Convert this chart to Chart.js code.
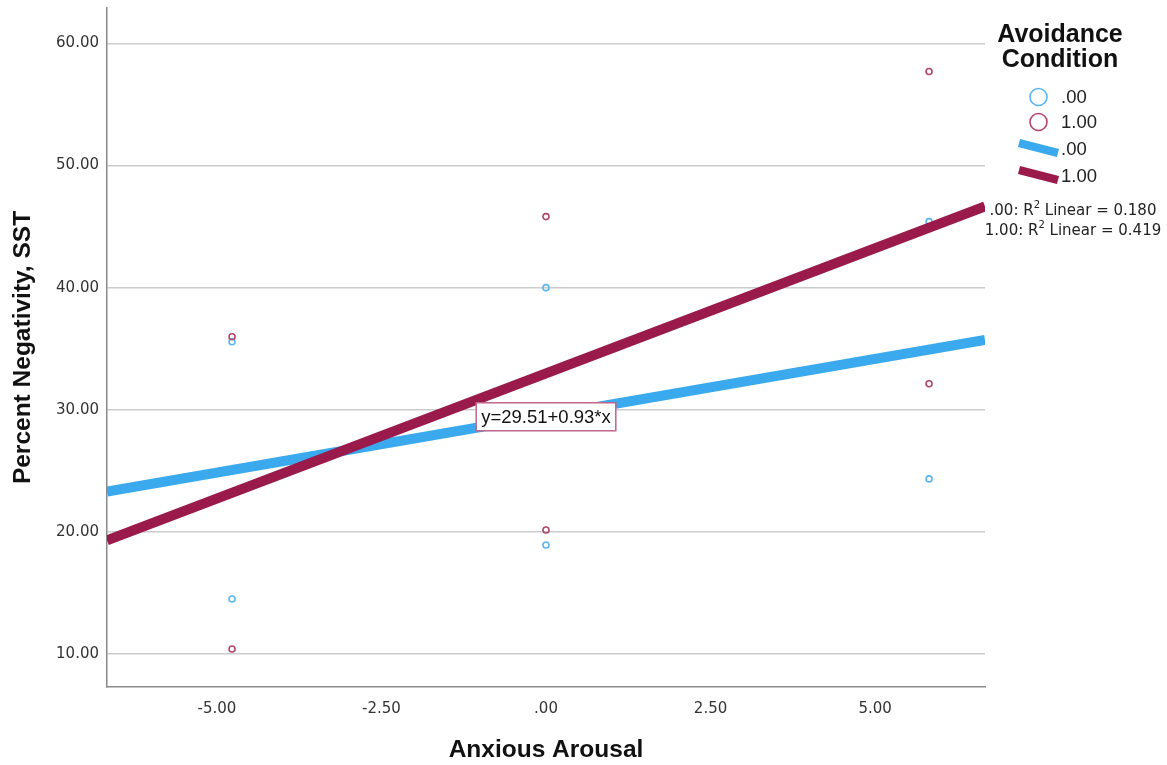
<!DOCTYPE html>
<html>
<head>
<meta charset="utf-8">
<script src="https://cdn.jsdelivr.net/npm/chart.js@4.4.1/dist/chart.umd.min.js"></script>
<style>
  html, body { margin: 0; padding: 0; background: #ffffff; }
  #wrap { width: 1167px; height: 765px; position: relative; }
</style>
</head>
<body>
<div id="wrap"><canvas id="c" width="1167" height="765"></canvas></div>
<script>
// Scatter data, one pair of arrays per avoidance condition
const groupNames = ['.00', '1.00'];
const arousal0 = [-4.77, -4.77, 0, 0, 5.82, 5.82];
const negativity0 = [35.57, 14.51, 40.00, 18.93, 45.41, 24.34];
const arousal1 = [-4.77, -4.77, 0, 0, 5.82, 5.82];
const negativity1 = [35.98, 10.41, 45.82, 20.16, 57.70, 32.13];

// Linear fit per condition: y = intercept + slope * x
const fitIntercept = [29.51, 32.98];
const fitSlope = [0.93, 2.05];
const rSquared = ['0.180', '0.419'];

// Axis ticks
const xTicks = [-5, -2.5, 0, 2.5, 5];
const xTickLabels = ['-5.00', '-2.50', '.00', '2.50', '5.00'];
const yTicks = [10, 20, 30, 40, 50, 60];
const yTickLabels = ['10.00', '20.00', '30.00', '40.00', '50.00', '60.00'];

const X_MIN = -6.67, X_MAX = 6.67, Y_MIN = 7.3, Y_MAX = 62.9;

const BLUE_LINE = '#3aa9ee';
const RED_LINE = '#9a1b4b';
const BLUE_PT = '#5ab6f2';
const RED_PT = '#b2456f';

function pts(xs, ys) { return xs.map((x, i) => ({ x: x, y: ys[i] })); }
function fitLine(k) {
  return [X_MIN, X_MAX].map(x => ({ x: x, y: fitIntercept[k] + fitSlope[k] * x }));
}

const overlay = {
  id: 'overlay',
  afterDatasetsDraw(chart) {
    const ctx = chart.ctx;
    const xs = chart.scales.x, ys = chart.scales.y;
    // equation label on the first fit line
    const txt = 'y=' + fitIntercept[0].toFixed(2) + '+' + fitSlope[0].toFixed(2) + '*x';
    ctx.save();
    ctx.font = '18.5px "Liberation Sans", Arial, sans-serif';
    const w = ctx.measureText(txt).width;
    const cx = xs.getPixelForValue(0);
    const cy = ys.getPixelForValue(fitIntercept[0]) + 1;
    const bw = w + 10, bh = 28;
    ctx.fillStyle = '#ffffff';
    ctx.fillRect(cx - bw / 2, cy - bh / 2, bw, bh);
    ctx.strokeStyle = '#c0668a';
    ctx.lineWidth = 1.5;
    ctx.strokeRect(cx - bw / 2, cy - bh / 2, bw, bh);
    ctx.fillStyle = '#111111';
    ctx.textAlign = 'center';
    ctx.textBaseline = 'middle';
    ctx.fillText(txt, cx, cy + 1);
    ctx.restore();
  },
  afterDraw(chart) {
    const ctx = chart.ctx;
    ctx.save();
    // legend title
    ctx.fillStyle = '#111111';
    ctx.font = 'bold 25px "Liberation Sans", Arial, sans-serif';
    ctx.textAlign = 'center';
    ctx.textBaseline = 'alphabetic';
    ctx.fillText('Avoidance', 1060, 42);
    ctx.fillText('Condition', 1060, 67);

    // point markers
    const circ = [BLUE_PT, RED_PT];
    const lines = [BLUE_LINE, RED_LINE];
    ctx.font = '18.5px "Liberation Sans", Arial, sans-serif';
    ctx.textAlign = 'left';
    ctx.textBaseline = 'middle';
    [97, 122].forEach((y, k) => {
      ctx.beginPath();
      ctx.arc(1038.5, y, 8.5, 0, Math.PI * 2);
      ctx.strokeStyle = circ[k];
      ctx.lineWidth = 1.6;
      ctx.stroke();
      ctx.fillStyle = '#222222';
      ctx.fillText(groupNames[k], 1061, y + 1);
    });
    // fit line markers
    [148, 175].forEach((y, k) => {
      ctx.beginPath();
      ctx.moveTo(1019, y - 5);
      ctx.lineTo(1058, y + 5);
      ctx.strokeStyle = lines[k];
      ctx.lineWidth = 8.5;
      ctx.lineCap = 'butt';
      ctx.stroke();
      ctx.fillStyle = '#222222';
      ctx.fillText(groupNames[k], 1061, y + 2);
    });

    // R squared notes
    const big = '15px "DejaVu Sans", sans-serif';
    const small = '10px "DejaVu Sans", sans-serif';
    [211, 231].forEach((y, k) => {
      const a = groupNames[k] + ': R';
      const b = ' Linear = ' + rSquared[k];
      ctx.font = big;
      const wa = ctx.measureText(a).width, wb = ctx.measureText(b).width;
      ctx.font = small;
      const ws = ctx.measureText('2').width;
      let x = 1073 - (wa + ws + wb) / 2;
      ctx.fillStyle = '#222222';
      ctx.textAlign = 'left';
      ctx.textBaseline = 'middle';
      ctx.font = big; ctx.fillText(a, x, y); x += wa;
      ctx.font = small; ctx.fillText('2', x, y - 6); x += ws;
      ctx.font = big; ctx.fillText(b, x, y);
    });
    ctx.restore();
  }
};

new Chart(document.getElementById('c'), {
  type: 'scatter',
  data: {
    datasets: [
      { type: 'line', label: 'fit 1.00', data: fitLine(1), borderColor: RED_LINE, borderWidth: 10,
        pointRadius: 0, borderCapStyle: 'butt', fill: false, tension: 0 },
      { type: 'line', label: 'fit .00', data: fitLine(0), borderColor: BLUE_LINE, borderWidth: 10,
        pointRadius: 0, borderCapStyle: 'butt', fill: false, tension: 0 },
      { label: '1.00', data: pts(arousal1, negativity1), borderColor: RED_PT, backgroundColor: 'rgba(0,0,0,0)',
        pointRadius: 3, borderWidth: 1.6 },
      { label: '.00', data: pts(arousal0, negativity0), borderColor: BLUE_PT, backgroundColor: 'rgba(0,0,0,0)',
        pointRadius: 3, borderWidth: 1.6 }
    ]
  },
  options: {
    responsive: false,
    animation: false,
    devicePixelRatio: 1,
    layout: { padding: { left: 0, top: 8, right: 182, bottom: 0 } },
    plugins: { legend: { display: false }, tooltip: { enabled: false } },
    scales: {
      x: {
        type: 'linear', min: X_MIN, max: X_MAX,
        afterBuildTicks: s => { s.ticks = xTicks.map(v => ({ value: v })); },
        afterFit: s => { s.height = 78; s.paddingLeft = 0; s.paddingRight = 0; },
        grid: { display: false, drawTicks: false },
        border: { display: true, color: '#8a8a8a', width: 1.5 },
        ticks: {
          padding: 13, color: '#333333', maxRotation: 0, autoSkip: false,
          font: { family: '"DejaVu Sans", sans-serif', size: 15 },
          callback: (v) => xTickLabels[xTicks.indexOf(v)]
        },
        title: {
          display: true, text: 'Anxious Arousal', color: '#111111',
          font: { family: '"Liberation Sans", Arial, sans-serif', size: 24.5, weight: 'bold' },
          padding: { top: 0, bottom: 0 }
        }
      },
      y: {
        type: 'linear', min: Y_MIN, max: Y_MAX,
        afterBuildTicks: s => { s.ticks = yTicks.map(v => ({ value: v })); },
        afterFit: s => { s.width = 107; s.paddingTop = 0; s.paddingBottom = 0; },
        grid: { display: true, drawTicks: false, color: '#cccccc', lineWidth: 1.5 },
        border: { display: true, color: '#8a8a8a', width: 1.5 },
        ticks: {
          padding: 8, color: '#333333',
          font: { family: '"DejaVu Sans", sans-serif', size: 15 },
          callback: (v) => yTickLabels[yTicks.indexOf(v)]
        },
        title: {
          display: true, text: 'Percent Negativity, SST', color: '#111111',
          font: { family: '"Liberation Sans", Arial, sans-serif', size: 24.5, weight: 'bold' },
          padding: { top: 9, bottom: 0 }
        }
      }
    }
  },
  plugins: [overlay]
});
</script>
</body>
</html>
